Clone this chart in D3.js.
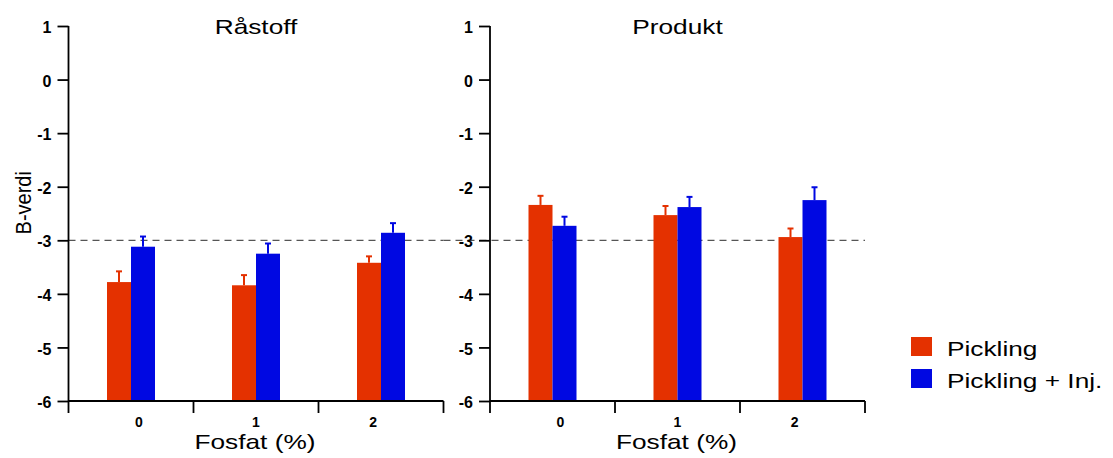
<!DOCTYPE html>
<html>
<head>
<meta charset="utf-8">
<script src="https://cdn.jsdelivr.net/npm/d3@7"></script>
<style>
  body { margin: 0; background: #fff; }
  text { font-family: "Liberation Sans", Arial, sans-serif; fill: #000; }
</style>
</head>
<body>
<svg id="chart" width="1113" height="458"></svg>
<script>
// Fosfat levels (x categories)
const categories = ["0", "1", "2"];
const seriesNames = ["Pickling", "Pickling + Inj."];
const panelTitles = ["Råstoff", "Produkt"];
const yTicks = [1, 0, -1, -2, -3, -4, -5, -6];

// Mean B-values and error (SD) per panel, series and phosphate level
const rastoffPickling    = [-3.78, -3.84, -3.42];
const rastoffPicklingErr = [0.20, 0.19, 0.12];
const rastoffInj         = [-3.12, -3.25, -2.86];
const rastoffInjErr      = [0.19, 0.19, 0.18];

const produktPickling    = [-2.34, -2.53, -2.94];
const produktPicklingErr = [0.17, 0.17, 0.16];
const produktInj         = [-2.73, -2.38, -2.25];
const produktInjErr      = [0.17, 0.19, 0.24];

const referenceLine = -3;

const colors = ["#e43100", "#0008e2"];
const stretch = 1.25; // horizontal widening of the large labels

const panels = [
  { title: panelTitles[0], left: 68.5,
    series: [{ v: rastoffPickling, e: rastoffPicklingErr }, { v: rastoffInj, e: rastoffInjErr }] },
  { title: panelTitles[1], left: 490,
    series: [{ v: produktPickling, e: produktPicklingErr }, { v: produktInj, e: produktInjErr }] }
];

const svg = d3.select("#chart");
const y = d3.scaleLinear().domain([-6, 1]).range([401, 26]);
const plotW = 375;
const barW = 24;

function wideText(parent, x, yPos, size, str, anchor) {
  return parent.append("text")
    .attr("transform", `translate(${x},${yPos}) scale(${stretch},1)`)
    .attr("text-anchor", anchor || "middle")
    .attr("font-size", size)
    .text(str);
}

panels.forEach((p, pi) => {
  const g = svg.append("g").attr("transform", `translate(${p.left},0)`);
  const x = d3.scaleBand().domain(categories).range([0, plotW]).padding(0);
  const xs = d3.scaleBand().domain(d3.range(seriesNames.length))
    .range([x.bandwidth() / 2 - barW, x.bandwidth() / 2 + barW]);
  // category labels sit on a slightly tighter point scale
  const xl = d3.scalePoint().domain(categories).range([0, plotW]).padding(0.6);

  // reference line
  g.append("line")
    .attr("x1", pi === 0 ? 0 : -(p.left - panels[0].left - plotW))
    .attr("x2", plotW)
    .attr("y1", y(referenceLine)).attr("y2", y(referenceLine))
    .attr("stroke", "#555").attr("stroke-width", 1.2)
    .attr("stroke-dasharray", "7,5");

  // bars + error bars
  p.series.forEach((s, si) => {
    const sg = g.append("g");
    categories.forEach((c, ci) => {
      const x0 = x(c) + xs(si);
      const cx = x0 + xs.bandwidth() / 2;
      const top = s.v[ci] + s.e[ci];
      sg.append("line")
        .attr("x1", cx).attr("x2", cx)
        .attr("y1", y(s.v[ci])).attr("y2", y(top))
        .attr("stroke", colors[si]).attr("stroke-width", 2);
      sg.append("line")
        .attr("x1", cx - 3).attr("x2", cx + 3)
        .attr("y1", y(top)).attr("y2", y(top))
        .attr("stroke", colors[si]).attr("stroke-width", 2);
      sg.append("rect")
        .attr("x", x0).attr("width", xs.bandwidth())
        .attr("y", y(s.v[ci])).attr("height", y(-6) - y(s.v[ci]))
        .attr("fill", colors[si]);
    });
  });

  // y axis
  const yAxis = d3.axisLeft(y).tickValues(yTicks).tickSize(11).tickPadding(6)
    .tickFormat(d => String(d));
  const ya = g.append("g").call(yAxis);
  ya.select(".domain").remove();
  ya.selectAll(".tick line").attr("stroke", "#000").attr("stroke-width", 1.8);
  ya.selectAll(".tick text").attr("font-size", 16).attr("font-weight", "bold")
    .attr("y", 1.5)
    .attr("font-family", "Liberation Sans, Arial, sans-serif");
  g.append("line").attr("x1", 0).attr("x2", 0).attr("y1", y(1)).attr("y2", y(-6) + 12)
    .attr("stroke", "#000").attr("stroke-width", 1.8);

  // x axis: baseline with group separators
  g.append("line").attr("x1", 0).attr("x2", plotW).attr("y1", y(-6)).attr("y2", y(-6))
    .attr("stroke", "#000").attr("stroke-width", 1.8);
  categories.forEach(c => {
    g.append("line")
      .attr("x1", x(c) + x.bandwidth()).attr("x2", x(c) + x.bandwidth())
      .attr("y1", y(-6)).attr("y2", y(-6) + 12)
      .attr("stroke", "#000").attr("stroke-width", 1.8);
    g.append("text")
      .attr("x", xl(c)).attr("y", 427)
      .attr("text-anchor", "middle").attr("font-size", 14).attr("font-weight", "bold")
      .text(c);
  });

  wideText(g, plotW / 2 - 1, 449, 21, "Fosfat (%)");
  wideText(g, plotW / 2 + 0, 33.5, 21, p.title);
});

// y axis title
svg.append("text")
  .attr("transform", `translate(31,${y(-2.3)}) rotate(-90) scale(1,${stretch * 0.9})`)
  .attr("text-anchor", "middle").attr("font-size", 20).text("B-verdi");

// legend
const legend = svg.append("g").attr("transform", "translate(911,337)");
seriesNames.forEach((n, i) => {
  const lg = legend.append("g").attr("transform", `translate(0,${i * 32})`);
  lg.append("rect").attr("width", 21).attr("height", 19).attr("fill", colors[i]);
  wideText(lg, 36, 19, 21, n, "start");
});
</script>
</body>
</html>
